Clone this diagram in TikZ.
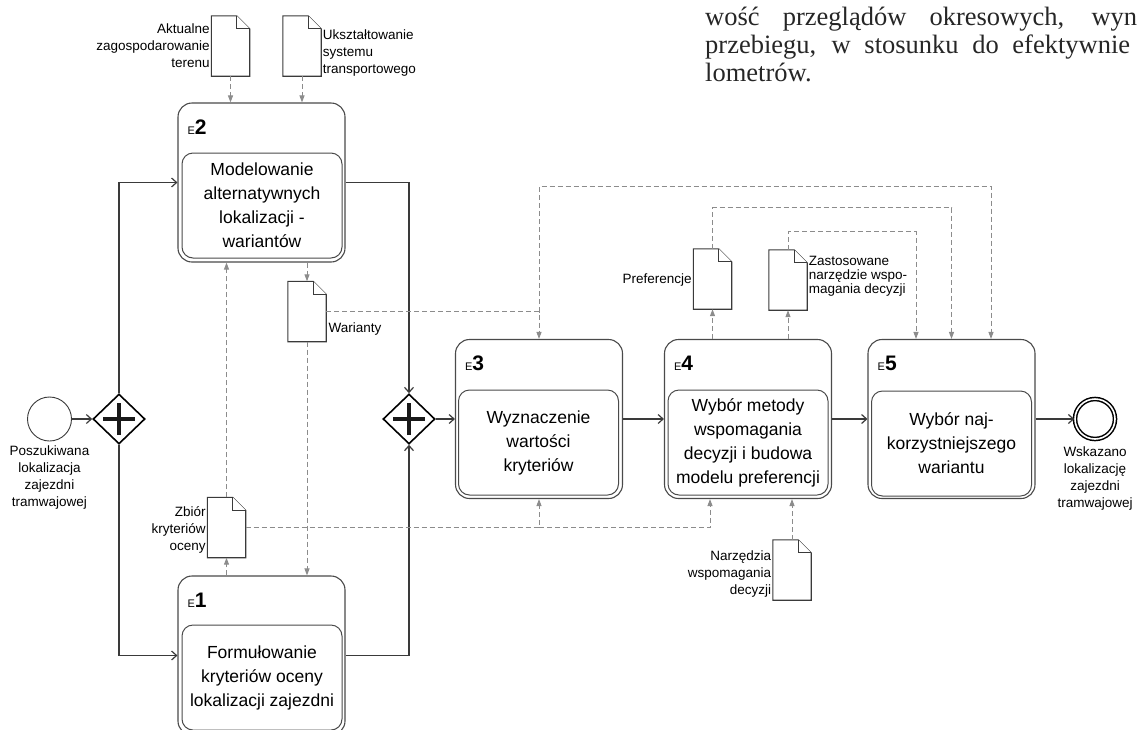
\documentclass[tikz,border=0pt]{standalone}
\usepackage{fontspec}
\setmainfont{Liberation Sans}
\newfontfamily\serifbook{Liberation Serif}
\usetikzlibrary{shapes.geometric,arrows.meta}
\definecolor{lineclr}{HTML}{3A3A3A}
\definecolor{taskclr}{HTML}{4A4A4A}
\definecolor{dataclr}{HTML}{8C8C8C}
\newcommand\lblfont{\fontsize{13.5}{17}\selectfont}
\newcommand\lblfontb{\fontsize{13.5}{14}\selectfont}
\newcommand\taskfont{\fontsize{17.5}{24}\selectfont}
\newcommand\mydoc[3]{%
  \node[docbox] (#1) at (#2,#3) {};
  \draw[docline] (#1.south west) -- (#1.north west) -- ([xshift=-13pt]#1.north east)
     -- ([yshift=-13pt]#1.north east) -- (#1.south east) -- cycle;
  \draw[docline] ([xshift=-13pt]#1.north east) |- ([yshift=-13pt]#1.north east);
}
\tikzset{
  flow/.style={draw=lineclr, line width=1.2pt, -{Straight Barb[length=5pt,width=9pt]}},
  data/.style={draw=dataclr, line width=1pt, dash pattern=on 5pt off 3pt,
     -{Triangle[length=7pt,width=5pt,fill=dataclr]}},
  outer/.style={draw=taskclr, line width=1.1pt, rounded corners=14pt, minimum width=167pt,
     minimum height=159pt, inner sep=0pt},
  inner/.style={draw=taskclr, line width=1pt, rounded corners=11pt, minimum width=160pt,
     minimum height=105pt, inner sep=0pt, align=center, font=\taskfont},
  elabel/.style={anchor=base west, inner sep=0pt},
  docbox/.style={minimum width=38pt, minimum height=60pt, inner sep=0pt},
  docline/.style={draw=lineclr, line width=1.1pt, fill=white},
  gw/.style={diamond, draw=black, line width=1.6pt, minimum width=52pt, minimum height=50pt,
     inner sep=0pt, fill=white},
  plus/.style={line width=4.8pt, draw=black!90},
  lbl/.style={inner sep=1.5pt, font=\lblfont},
  ptext/.style={anchor=base west, inner sep=0pt, font=\serifbook\fontsize{26.5}{28}\selectfont, text=black!85}
}
\begin{document}
\begin{tikzpicture}[x=1pt,y=-1pt]
\useasboundingbox (0,0) rectangle (1137,729);
\clip (0,0) rectangle (1137,729);

% serif text at top right
\node[ptext] (t1) at (705,25) {\makebox[432pt][s]{wość przeglądów okresowych, wyn}};
\node[ptext] (t2) at (705,53) {\makebox[425pt][s]{przebiegu, w stosunku do efektywnie}};
\node[ptext] (t3) at (705,81) {lometrów.};

% events and gateways
\node[circle, draw=lineclr, line width=0.9pt, minimum size=44pt, inner sep=0pt] (start) at (49.5,419) {};
\node[lbl, anchor=north, align=center] (startl) at ([yshift=-3pt]start.south) {Poszukiwana\\lokalizacja\\zajezdni\\tramwajowej};
\node[gw] (g1) at (119,419) {};
\draw[plus] ([xshift=-16pt]g1.center) -- ([xshift=16pt]g1.center);
\draw[plus] ([yshift=-16pt]g1.center) -- ([yshift=16pt]g1.center);
\node[gw] (g2) at (409,419) {};
\draw[plus] ([xshift=-16pt]g2.center) -- ([xshift=16pt]g2.center);
\draw[plus] ([yshift=-16pt]g2.center) -- ([yshift=16pt]g2.center);
\node[circle, draw=black, line width=1.5pt, double=white, double distance=1.6pt, minimum size=40pt, inner sep=0pt] (end) at (1095,419) {};
\node[lbl, anchor=north, align=center] (endl) at ([yshift=-5pt]end.south) {Wskazano\\lokalizację\\zajezdni\\tramwajowej};

% tasks
\node[outer] (E2) at (261.5,182.5) {};
\node[inner] (E2i) at (262,205.5) {Modelowanie\\alternatywnych\\lokalizacji -\\wariantów};
\node[elabel] (E2l) at ([xshift=10pt,yshift=-32pt]E2.north west) {\fontsize{11}{11}\selectfont E\fontsize{21}{21}\selectfont\bfseries 2};

\node[outer] (E1) at (261.5,655.5) {};
\node[inner] (E1i) at (262,677.5) {Formułowanie\\kryteriów oceny\\lokalizacji zajezdni};
\node[elabel] (E1l) at ([xshift=10pt,yshift=-32pt]E1.north west) {\fontsize{11}{11}\selectfont E\fontsize{21}{21}\selectfont\bfseries 1};

\node[outer] (E3) at (539,419) {};
\node[inner] (E3i) at (538.5,442.5) {Wyznaczenie\\wartości\\kryteriów};
\node[elabel] (E3l) at ([xshift=10pt,yshift=-32pt]E3.north west) {\fontsize{11}{11}\selectfont E\fontsize{21}{21}\selectfont\bfseries 3};

\node[outer] (E4) at (748,419) {};
\node[inner] (E4i) at (748,442.5) {Wybór metody\\wspomagania\\decyzji i budowa\\modelu preferencji};
\node[elabel] (E4l) at ([xshift=10pt,yshift=-32pt]E4.north west) {\fontsize{11}{11}\selectfont E\fontsize{21}{21}\selectfont\bfseries 4};

\node[outer] (E5) at (951.5,419) {};
\node[inner] (E5i) at (951.5,443.5) {Wybór naj-\\korzystniejszego\\wariantu};
\node[elabel] (E5l) at ([xshift=10pt,yshift=-32pt]E5.north west) {\fontsize{11}{11}\selectfont E\fontsize{21}{21}\selectfont\bfseries 5};

% documents
\mydoc{d1}{230.5}{46}
\node[lbl, anchor=east, align=right] (d1l) at (d1.west) {Aktualne\\zagospodarowanie\\terenu};
\mydoc{d2}{302}{46}
\node[lbl, anchor=west, align=left] (d2l) at ([yshift=-7pt]d2.east) {Ukształtowanie\\systemu\\transportowego};
\mydoc{dW}{307}{311.5}
\node[lbl, anchor=west] (dWl) at (327,329) {Warianty};
\mydoc{dZ}{226.5}{527.5}
\node[lbl, anchor=east, align=right] (dZl) at ([yshift=-2pt]dZ.west) {Zbiór\\kryteriów\\oceny};
\mydoc{dN}{792}{570}
\node[lbl, anchor=east, align=right] (dNl) at ([yshift=-4pt]dN.west) {Narzędzia\\wspomagania\\decyzji};
\mydoc{dP}{712.5}{279}
\node[lbl, anchor=east] (dPl) at ([yshift=-1pt]dP.west) {Preferencje};
\mydoc{dZa}{788}{280}
\node[lbl, anchor=west, align=left, font=\lblfontb] (dZal) at ([yshift=4pt]dZa.east) {Zastosowane\\narzędzie wspo-\\magania decyzji};

\coordinate (toprt) at (991,186);

% sequence flows
\draw[flow] (start.east) -- (g1.west);
\draw[flow] (g1.north) |- (E2.west);
\draw[flow] (g1.south) |- (E1.west);
\draw[flow] (E2.east) -| (g2.north);
\draw[flow] (E1.east) -| (g2.south);
\draw[flow] (g2.east) -- (E3.west);
\draw[flow] (E3.east) -- (E4.west);
\draw[flow] (E4.east) -- (E5.west);
\draw[flow] (E5.east) -- (end.west);

% data associations
\draw[data] (d1.south) -- (d1.south |- E2.north);
\draw[data] (d2.south) -- (d2.south |- E2.north);
\draw[data] (dW.north |- E2.south) -- (dW.north);
\draw[data] (dW.south) -- (dW.south |- E1.north);
\draw[data] (dW.east) -| (E3.north);
\draw[data] (dW.east -| E3.north) |- (toprt) -- (toprt |- E5.north);
\draw[data] (dZ.south |- E1.north) -- (dZ.south);
\draw[data] (dZ.north) -- (dZ.north |- E2.south);
\draw[data] (dZ.east) -| (E3.south);
\draw[data] (dZ.east -| E3.south) -| ([xshift=-38pt]E4.south);
\draw[data] (dN.north) -- (dN.north |- E4.south);
\draw[data] (dP.south |- E4.north) -- (dP.south);
\draw[data] (dZa.south |- E4.north) -- (dZa.south);
\draw[data] (dP.north) -- ++(0,-41) -| (E5.north);
\draw[data] (dZa.north) -- ++(0,-18) -| ([xshift=-35.5pt]E5.north);
\end{tikzpicture}
\end{document}
